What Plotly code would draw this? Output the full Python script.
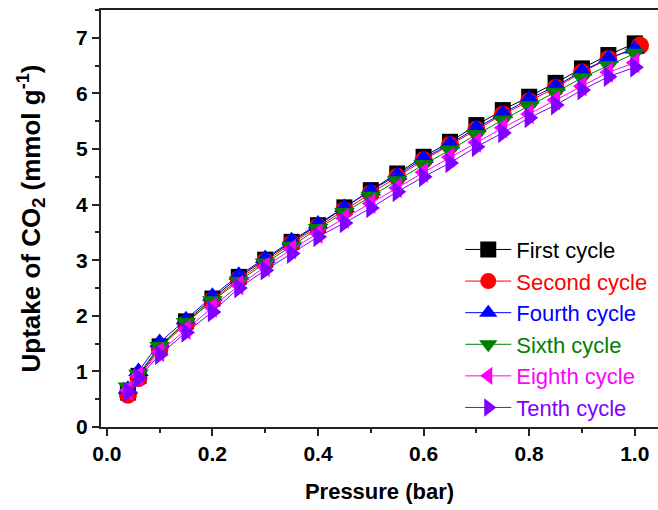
import plotly.graph_objects as go

pressure = [0.04, 0.06, 0.10, 0.15, 0.20, 0.25, 0.30, 0.35, 0.40, 0.45, 0.50,
            0.55, 0.60, 0.65, 0.70, 0.75, 0.80, 0.85, 0.90, 0.95, 1.00]
pressure_second = pressure[:-1] + [1.01]

first_cycle = [0.62, 0.92, 1.45, 1.90, 2.31, 2.70, 3.01, 3.33, 3.63, 3.95, 4.26,
               4.56, 4.86, 5.13, 5.43, 5.70, 5.94, 6.19, 6.45, 6.69, 6.90]
second_cycle = [0.58, 0.88, 1.42, 1.86, 2.28, 2.66, 2.98, 3.30, 3.60, 3.90, 4.20,
                4.50, 4.80, 5.07, 5.35, 5.62, 5.86, 6.10, 6.38, 6.62, 6.86]
fourth_cycle = [0.68, 1.00, 1.52, 1.93, 2.35, 2.73, 3.03, 3.35, 3.65, 3.95, 4.25,
                4.53, 4.83, 5.09, 5.38, 5.64, 5.90, 6.13, 6.40, 6.63, 6.80]
sixth_cycle = [0.72, 0.95, 1.45, 1.88, 2.27, 2.62, 2.95, 3.25, 3.57, 3.86, 4.15,
               4.43, 4.72, 4.98, 5.26, 5.52, 5.78, 6.02, 6.28, 6.50, 6.72]
eighth_cycle = [0.66, 0.92, 1.35, 1.75, 2.15, 2.55, 2.88, 3.20, 3.48, 3.75, 4.02,
                4.30, 4.58, 4.85, 5.12, 5.38, 5.63, 5.88, 6.13, 6.38, 6.55]
tenth_cycle = [0.63, 0.88, 1.30, 1.70, 2.07, 2.50, 2.82, 3.12, 3.42, 3.67, 3.94,
               4.23, 4.50, 4.75, 5.04, 5.29, 5.56, 5.79, 6.06, 6.30, 6.47]

series = [
    ("First cycle", pressure, first_cycle, "#000000", "square", 16),
    ("Second cycle", pressure_second, second_cycle, "#ff0000", "circle", 18),
    ("Fourth cycle", pressure, fourth_cycle, "#0000ff", "triangle-up", 18),
    ("Sixth cycle", pressure, sixth_cycle, "#008000", "triangle-down", 18),
    ("Eighth cycle", pressure, eighth_cycle, "#ff00ff", "triangle-left", 18),
    ("Tenth cycle", pressure, tenth_cycle, "#8000ff", "triangle-right", 18),
]

fig = go.Figure()
for name, xs, ys, color, symbol, size in series:
    fig.add_trace(go.Scatter(
        x=xs, y=ys, mode="lines+markers",
        name=f'<span style="color:{color}">{name}</span>',
        line=dict(color=color, width=1),
        marker=dict(symbol=symbol, size=size, color=color, line=dict(width=0)),
    ))

font_family = "Liberation Sans, Arial, sans-serif"
fig.update_layout(
    width=658, height=510,
    margin=dict(l=101, r=0, t=10, b=83),
    paper_bgcolor="white", plot_bgcolor="white",
    font=dict(family=font_family, color="black"),
    showlegend=True,
    legend=dict(
        x=0.645, y=-0.004, xanchor="left", yanchor="bottom",
        bgcolor="rgba(0,0,0,0)",
        font=dict(size=22, family=font_family),
        itemwidth=46,
    ),
)
fig.update_xaxes(
    range=[-0.011, 1.044],
    tickvals=[0.0, 0.2, 0.4, 0.6, 0.8, 1.0],
    tickformat=".1f",
    ticks="outside", ticklen=7, tickwidth=1.5, tickcolor="#222",
    minor=dict(dtick=0.1, tick0=0, ticks="outside", ticklen=4, tickwidth=1.5, tickcolor="#222"),
    showline=True, linecolor="#222", linewidth=2, mirror=True,
    showgrid=False, zeroline=False,
    tickfont=dict(size=21, family="Liberation Sans, Arial", color="black", weight="bold"),
    title=dict(text="<b>Pressure (bar)</b>", font=dict(size=22, color="black"), standoff=19),
)
fig.update_yaxes(
    range=[0, 7.5],
    tickvals=[0, 1, 2, 3, 4, 5, 6, 7],
    ticks="outside", ticklen=7, tickwidth=1.5, tickcolor="#222",
    minor=dict(dtick=0.5, tick0=0, ticks="outside", ticklen=4, tickwidth=1.5, tickcolor="#222"),
    showline=True, linecolor="#222", linewidth=2, mirror=False,
    showgrid=False, zeroline=False,
    tickfont=dict(size=21, family="Liberation Sans, Arial", color="black", weight="bold"),
    title=dict(text="<b>Uptake of CO<sub>2</sub> (mmol g<sup>-1</sup>)</b>",
               font=dict(size=26, color="black"), standoff=28),
)

fig.write_html("out.html")
